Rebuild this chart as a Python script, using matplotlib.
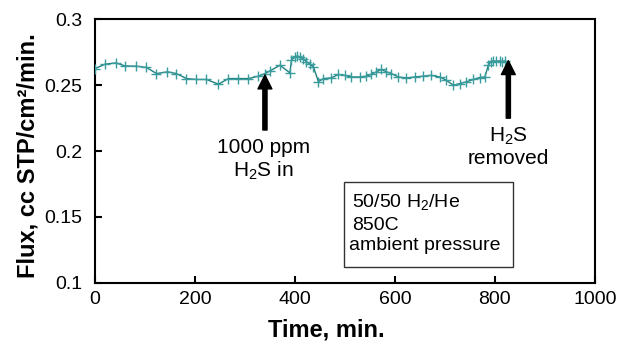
import matplotlib
matplotlib.use("Agg")
import matplotlib.pyplot as plt
from matplotlib.patches import Rectangle

plt.rcParams['font.family'] = ['Liberation Sans', 'DejaVu Sans']
plt.rcParams['mathtext.default'] = 'regular'

# Data
time_min = [0, 20, 42, 60, 83, 103, 123, 145, 163, 183, 203, 223, 247, 267, 287,
            307, 327, 340, 350, 370, 390, 393, 400, 405, 410, 417, 423, 430, 437,
            447, 457, 473, 487, 500, 513, 530, 543, 553, 563, 573, 583, 593, 607,
            623, 640, 657, 673, 690, 703, 717, 730, 743, 757, 770, 780, 787, 792,
            797, 803, 810, 815, 820]
flux = [0.2627, 0.2660, 0.2670, 0.2647, 0.2645, 0.2635, 0.2589, 0.2602, 0.2589,
        0.2551, 0.2544, 0.2544, 0.2508, 0.2551, 0.2551, 0.2551, 0.2569, 0.2589,
        0.2609, 0.2652, 0.2594, 0.2690, 0.2716, 0.2722, 0.2716, 0.2700, 0.2680,
        0.2660, 0.2640, 0.2527, 0.2551, 0.2556, 0.2582, 0.2575, 0.2563, 0.2563,
        0.2569, 0.2584, 0.2602, 0.2620, 0.2602, 0.2589, 0.2563, 0.2556, 0.2563,
        0.2569, 0.2575, 0.2563, 0.2538, 0.2500, 0.2513, 0.2526, 0.2544, 0.2559,
        0.2563, 0.2652, 0.2680, 0.2685, 0.2682, 0.2685, 0.2680, 0.2685]

xticks = [0, 200, 400, 600, 800, 1000]
yticks = [0.1, 0.15, 0.2, 0.25, 0.3]
ytick_labels = ['0.1', '0.15', '0.2', '0.25', '0.3']

fig = plt.figure(figsize=(6.17, 3.45), dpi=100)
ax = fig.add_axes([0.154, 0.1806, 0.810, 0.763])

ax.plot(time_min, flux, color='#1f8080', lw=1.0, marker='+', ms=7,
        mec='#3a9c9c', mew=1.0, zorder=3)

ax.set_xlim(0, 1000)
ax.set_ylim(0.1, 0.3)
ax.set_xticks(xticks)
ax.set_yticks(yticks)
ax.set_yticklabels(ytick_labels)
ax.tick_params(direction='in', length=5, width=1.5, labelsize=14)
ax.tick_params(axis='y', pad=9)
ax.tick_params(axis='x', pad=6)
for s in ax.spines.values():
    s.set_linewidth(1.5)

fig.text(0.5295, 0.043, 'Time, min.', ha='center', va='center',
         fontsize=17, fontweight='bold')
fig.text(0.045, 0.55, 'Flux, cc STP/cm\u00b2/min.', ha='center', va='center',
         rotation=90, fontsize=17, fontweight='bold')

arrow_kw = dict(facecolor='black', edgecolor='black', width=3, headwidth=10,
                headlength=10, shrink=0)
ax.annotate('', xy=(340, 0.2578), xytext=(340, 0.216), arrowprops=arrow_kw)
ax.annotate('', xy=(827, 0.2687), xytext=(827, 0.225), arrowprops=arrow_kw)

ax.text(337, 0.2025, '1000 ppm', ha='center', va='center', fontsize=15)
ax.text(337, 0.1850, 'H$_2$S in', ha='center', va='center', fontsize=15)
ax.text(827, 0.2110, 'H$_2$S', ha='center', va='center', fontsize=15)
ax.text(827, 0.1945, 'removed', ha='center', va='center', fontsize=15)

# annotation box
box = Rectangle((498, 0.1122), 338, 0.0646, fill=False, edgecolor='#333333',
                lw=1.0, transform=ax.transData, zorder=2)
ax.add_patch(box)
ax.text(514, 0.1615, '50/50 H$_2$/He', ha='left', va='center', fontsize=14)
ax.text(514, 0.1438, '850C', ha='left', va='center', fontsize=14)
ax.text(508, 0.1279, 'ambient pressure', ha='left', va='center', fontsize=14)

fig.savefig('out.png', dpi=100)
